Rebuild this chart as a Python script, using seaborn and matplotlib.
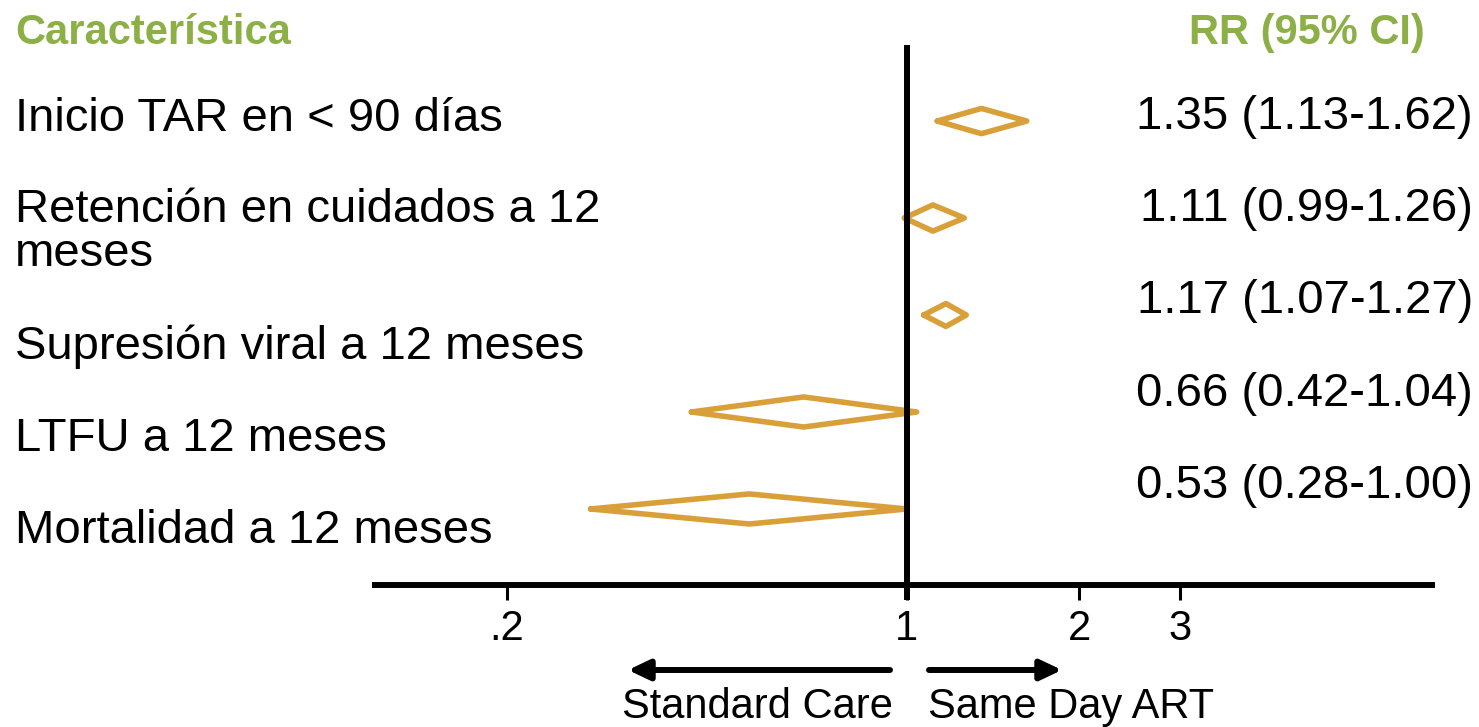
import matplotlib
matplotlib.use("Agg")
import matplotlib.pyplot as plt
from matplotlib import font_manager
import seaborn as sns
import pandas as pd

# Outcomes and relative risks (95% CI), same-day ART vs standard care
outcomes = [
    "Inicio TAR en < 90 días",
    "Retención en cuidados a 12\nmeses",
    "Supresión viral a 12 meses",
    "LTFU a 12 meses",
    "Mortalidad a 12 meses",
]
rr = [1.35, 1.11, 1.17, 0.66, 0.53]
ci_low = [1.13, 0.99, 1.07, 0.42, 0.28]
ci_high = [1.62, 1.26, 1.27, 1.04, 1.00]

tick_values = [0.2, 1, 2, 3]
tick_labels = [".2", "1", "2", "3"]

header_left = "Característica"
header_right = "RR (95% CI)"
favours_left = "Standard Care"
favours_right = "Same Day ART"

# styling
GOLD = "#D9A03A"
GREEN = "#8CB046"
W, H = 1479, 727
half_height = [0.13, 0.135, 0.118, 0.155, 0.155]   # diamond half-heights (rows)
label_y = [119, 232, 347, 439, 531]                 # left labels, pixel rows
value_y = [117, 209, 301, 394, 486]                 # right labels, pixel rows

sns.set_theme(style="white")
available = {f.name for f in font_manager.fontManager.ttflist}
plt.rcParams["font.family"] = ["Liberation Sans", "DejaVu Sans"]
plt.rcParams["text.color"] = "black"
plt.rcParams["xtick.color"] = "black"
plt.rcParams["xtick.labelcolor"] = "black"
narrow = "Liberation Sans Narrow" if "Liberation Sans Narrow" in available else "Liberation Sans"

fig = plt.figure(figsize=(W / 100, H / 100), dpi=100)
ax = fig.add_axes([375 / W, 142 / H, 1057 / W, 540 / H])


def fy(py):
    return 1 - py / H


# diamond outlines, one polygon per outcome
rows = []
for i, name in enumerate(outcomes):
    h = half_height[i]
    xs = [ci_low[i], rr[i], ci_high[i], rr[i], ci_low[i]]
    ys = [i, i - h, i, i + h, i]
    for k, (x, y) in enumerate(zip(xs, ys)):
        rows.append({"outcome": name, "order": k, "rr": x, "row": y})
diamonds = pd.DataFrame(rows)

sns.lineplot(
    data=diamonds, x="rr", y="row", units="outcome", estimator=None,
    sort=False, color=GOLD, lw=4.0, ax=ax, legend=False,
    solid_joinstyle="round", solid_capstyle="round",
)

ax.set_xscale("log")
ax.set_xlim(0.1175, 8.28)
ax.set_ylim(len(outcomes) - 1 + 0.784, -0.784)

# reference line at RR = 1
ax.plot([1, 1], [1, -0.028], color="black", lw=4.3,
        transform=ax.get_xaxis_transform(), clip_on=False, solid_capstyle="butt")

for side in ["left", "right", "top"]:
    ax.spines[side].set_visible(False)
ax.spines["bottom"].set_linewidth(4.3)
ax.spines["bottom"].set_color("black")
ax.set_xticks(tick_values)
ax.set_xticklabels(tick_labels, fontfamily=narrow, fontsize=30, color="black")
ax.minorticks_off()
ax.tick_params(axis="x", bottom=True, length=11, width=2.2, color="black", pad=6)
ax.set_yticks([])
ax.set_xlabel("")
ax.set_ylabel("")

# headers
fig.text(15 / W, fy(33), header_left, color=GREEN, fontsize=30, fontweight="bold",
         ha="left", va="center")
fig.text(1425 / W, fy(33), header_right, color=GREEN, fontsize=30, fontweight="bold",
         ha="right", va="center")

# outcome labels and estimates
for i, name in enumerate(outcomes):
    fig.text(15 / W, fy(label_y[i]), name, fontsize=34, ha="left", va="center",
             color="black", linespacing=0.98)
    est = f"{rr[i]:.2f} ({ci_low[i]:.2f}-{ci_high[i]:.2f})"
    fig.text(1473 / W, fy(value_y[i]), est, fontsize=34, ha="right", va="center",
             color="black")

# direction arrows
arrow = dict(arrowstyle="-|>,head_length=0.8,head_width=0.38", lw=4.3, color="black",
             shrinkA=0, shrinkB=0, mutation_scale=16)
ax.annotate("", xy=(628 / W, fy(670)), xytext=(890 / W, fy(670)),
            xycoords="figure fraction", textcoords="figure fraction", arrowprops=arrow)
ax.annotate("", xy=(1062 / W, fy(670)), xytext=(929 / W, fy(670)),
            xycoords="figure fraction", textcoords="figure fraction", arrowprops=arrow)
fig.text(622 / W, fy(707), favours_left, fontsize=30, ha="left", va="center", color="black")
fig.text(928 / W, fy(707), favours_right, fontsize=30, ha="left", va="center", color="black")

fig.savefig("out.png", dpi=100)
